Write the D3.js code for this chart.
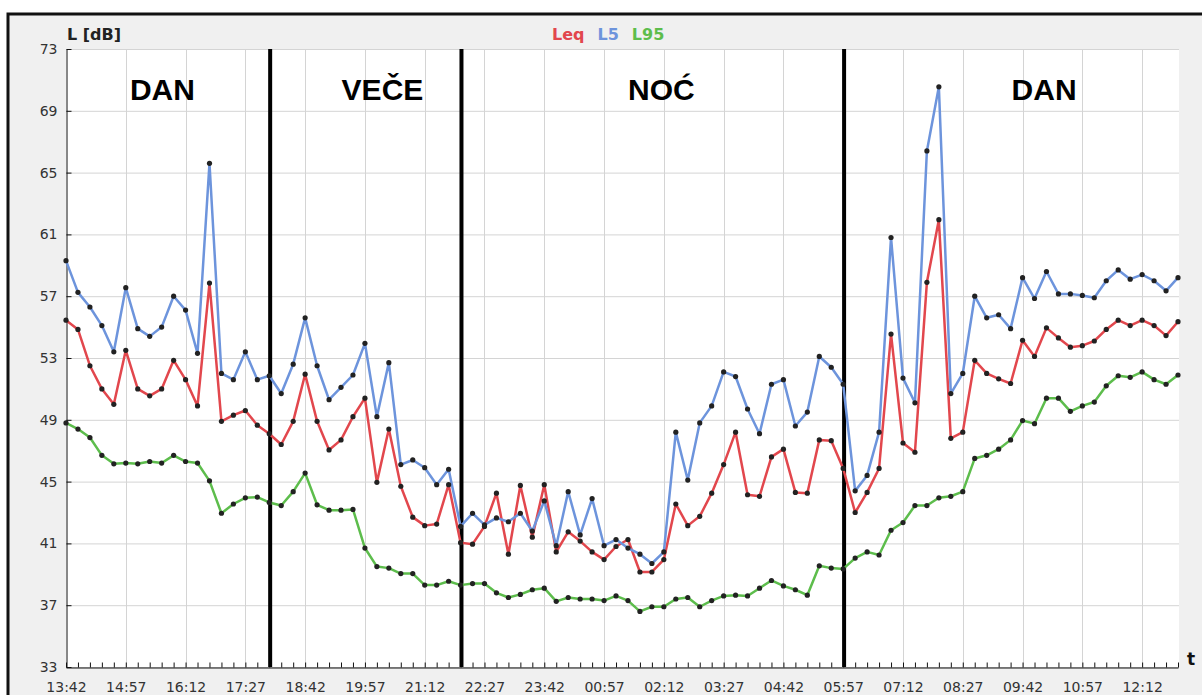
<!DOCTYPE html>
<html>
<head>
<meta charset="UTF-8">
<title>L [dB]</title>
<style>
    body { margin: 0; background: #fff; }
    svg text { font-family: "DejaVu Sans", Verdana, sans-serif; }
    .axis path, .axis line { stroke: #111; }
    .axis text { font-size: 14px; fill: #333; }
    .grid line { stroke: #d4d4d4; stroke-width: 1; }
    .period { font-family: "Liberation Sans", Arial, sans-serif !important; font-weight: bold; font-size: 30px; }
</style>
</head>
<body>
<svg width="1202" height="695"></svg>
<script src="https://d3js.org/d3.v7.min.js"></script>
<script>

    // measurements every 15 min starting at 13:42
    var startTime = "13:42",
        stepMinutes = 15;

    var leq = [55.45, 54.85, 52.5, 51.0, 50.0, 53.5, 51.0, 50.55, 51.0, 52.85,
        51.6, 49.9, 57.85, 48.9, 49.3, 49.6, 48.65, 48.1, 47.4, 48.9,
        51.95, 48.9, 47.05, 47.7, 49.2, 50.4, 44.95, 48.4, 44.7, 42.7,
        42.15, 42.25, 44.8, 41.05, 40.95, 42.1, 44.25, 40.3, 44.75, 41.4,
        44.8, 40.45, 41.75, 41.15, 40.45, 39.95, 40.8, 41.25, 39.15, 39.15,
        39.95, 43.55, 42.15, 42.75, 44.25, 46.1, 48.2, 44.15, 44.05, 46.6,
        47.1, 44.3, 44.25, 47.7, 47.65, 45.85, 43.0, 44.3, 45.85, 54.55,
        47.5, 46.9, 57.9, 61.95, 47.8, 48.2, 52.85, 52.0, 51.65, 51.35,
        54.15, 53.1, 54.95, 54.3, 53.7, 53.8, 54.1, 54.85, 55.45, 55.1,
        55.45, 55.1, 54.45, 55.35];

    var l5 = [59.3, 57.25, 56.3, 55.1, 53.4, 57.55, 54.9, 54.4, 55.0, 57.0,
        56.1, 53.3, 65.6, 52.0, 51.6, 53.4, 51.6, 51.85, 50.7, 52.6,
        55.6, 52.5, 50.3, 51.1, 51.9, 53.95, 49.2, 52.7, 46.1, 46.4,
        45.9, 44.8, 45.8, 42.1, 42.95, 42.2, 42.65, 42.4, 42.95, 41.8,
        43.75, 40.85, 44.35, 41.55, 43.9, 40.85, 41.25, 40.7, 40.3, 39.7,
        40.45, 48.2, 45.1, 48.8, 49.9, 52.1, 51.8, 49.7, 48.1, 51.3,
        51.6, 48.6, 49.5, 53.1, 52.4, 51.3, 44.4, 45.4, 48.2, 60.8,
        51.7, 50.1, 66.4, 70.55, 50.7, 52.0, 57.0, 55.6, 55.8, 54.9,
        58.2, 56.85, 58.6, 57.15, 57.15, 57.05, 56.9, 58.0, 58.7, 58.1,
        58.4, 58.0, 57.35, 58.2];

    var l95 = [48.8, 48.4, 47.85, 46.7, 46.15, 46.2, 46.15, 46.3, 46.2, 46.7,
        46.3, 46.2, 45.05, 42.95, 43.55, 43.95, 44.0, 43.65, 43.45, 44.35,
        45.55, 43.5, 43.15, 43.15, 43.2, 40.7, 39.5, 39.4, 39.05, 39.05,
        38.3, 38.3, 38.55, 38.3, 38.4, 38.4, 37.8, 37.5, 37.7, 38.0,
        38.1, 37.25, 37.5, 37.4, 37.4, 37.3, 37.6, 37.3, 36.6, 36.9,
        36.9, 37.4, 37.5, 36.9, 37.3, 37.6, 37.65, 37.6, 38.1, 38.6,
        38.25, 38.0, 37.65, 39.55, 39.4, 39.35, 40.05, 40.45, 40.25, 41.85,
        42.35, 43.45, 43.45, 43.95, 44.05, 44.35, 46.5, 46.7, 47.1, 47.7,
        48.95, 48.75, 50.4, 50.4, 49.55, 49.9, 50.15, 51.2, 51.85, 51.75,
        52.1, 51.6, 51.3, 51.9];

    var xTickLabels = ["13:42", "14:57", "16:12", "17:27", "18:42", "19:57", "21:12",
        "22:27", "23:42", "00:57", "02:12", "03:27", "04:42", "05:57", "07:12",
        "08:27", "09:42", "10:57", "12:12"];

    var yTicks = [33, 37, 41, 45, 49, 53, 57, 61, 65, 69, 73];

    var periodNames = ["DAN", "VEČE", "NOĆ", "DAN"];
    var periodBounds = ["18:00", "22:00", "06:00"];

    var series = [
        {name: "Leq", values: leq, color: "#e2474d"},
        {name: "L5", values: l5, color: "#6d94dc"},
        {name: "L95", values: l95, color: "#5dbd4c"}
    ];

    // minutes after start time (wraps past midnight)
    function toMin(s) {
        var p = s.split(":"), q = startTime.split(":");
        return ((+p[0] * 60 + +p[1]) - (+q[0] * 60 + +q[1]) + 1440) % 1440;
    }

    var svg = d3.select("svg"),
        plotL = 66, plotR = 1178, plotT = 49, plotB = 667;

    var n = leq.length;
    var x = d3.scaleLinear().domain([0, (n - 1) * stepMinutes]).range([plotL, plotR]);
    var y = d3.scaleLinear().domain([33, 73]).range([plotB, plotT]);

    // outer frame
    svg.append("rect").attr("x", 8).attr("y", 14).attr("width", 1200).attr("height", 700)
            .attr("fill", "#f0f0f0").attr("stroke", "#111").attr("stroke-width", 3);
    svg.append("rect").attr("x", plotL).attr("y", plotT).attr("width", plotR - plotL + 1).attr("height", plotB - plotT)
            .attr("fill", "#fff");

    var labelTicks = xTickLabels.map(toMin);

    // grid
    var grid = svg.append("g").attr("class", "grid");
    grid.selectAll(".h").data(yTicks).enter().append("line")
            .attr("x1", plotL).attr("x2", plotR + 1)
            .attr("y1", function (d) { return y(d) + 0.5; })
            .attr("y2", function (d) { return y(d) + 0.5; });
    grid.selectAll(".v").data(labelTicks.slice(1)).enter().append("line")
            .attr("y1", plotT).attr("y2", plotB)
            .attr("x1", function (d) { return Math.round(x(d)) + 0.5; })
            .attr("x2", function (d) { return Math.round(x(d)) + 0.5; });

    // axes
    var xAxis = d3.axisBottom(x)
            .tickValues(d3.range(0, (n - 1) * stepMinutes + 1, stepMinutes))
            .tickSize(-5).tickSizeOuter(0).tickPadding(15)
            .tickFormat(function (d) {
                var i = labelTicks.indexOf(d);
                return i < 0 ? "" : xTickLabels[i];
            });
    svg.append("g").attr("class", "axis").attr("transform", "translate(0," + (plotB + 0.5) + ")")
            .call(xAxis);

    var yAxis = d3.axisLeft(y).tickValues(yTicks).tickSize(-5).tickSizeOuter(0).tickPadding(9);
    svg.append("g").attr("class", "axis").attr("transform", "translate(" + (plotL + 0.5) + ",0)")
            .call(yAxis);

    // period separators
    svg.selectAll(".sep").data(periodBounds).enter().append("line")
            .attr("x1", function (d) { return x(toMin(d)) - 1.5; })
            .attr("x2", function (d) { return x(toMin(d)) - 1.5; })
            .attr("y1", plotT).attr("y2", plotB)
            .attr("stroke", "#000").attr("stroke-width", 4);

    var labelTimes = ["15:43", "20:19", "02:09", "10:09"];
    svg.selectAll(".period").data(periodNames).enter().append("text")
            .attr("class", "period")
            .attr("x", function (d, i) { return x(toMin(labelTimes[i])); })
            .attr("y", 100)
            .attr("text-anchor", "middle")
            .text(function (d) { return d; });

    // lines and points
    var line = d3.line()
            .x(function (d, i) { return x(i * stepMinutes); })
            .y(function (d) { return y(d); });

    series.forEach(function (s) {
        svg.append("path").datum(s.values)
                .attr("d", line)
                .attr("fill", "none")
                .attr("stroke", s.color)
                .attr("stroke-width", 2.5)
                .attr("stroke-linejoin", "round");
    });
    series.forEach(function (s) {
        svg.append("g").selectAll("circle").data(s.values).enter().append("circle")
                .attr("cx", function (d, i) { return x(i * stepMinutes); })
                .attr("cy", function (d) { return y(d); })
                .attr("r", 2.6)
                .attr("fill", "#222");
    });

    // titles and legend
    svg.append("text").attr("x", plotL + 1).attr("y", 40)
            .attr("font-weight", "bold").attr("font-size", 16).attr("fill", "#222")
            .text("L [dB]");
    svg.append("text").attr("x", 1187).attr("y", 665)
            .attr("font-weight", "bold").attr("font-size", 17).attr("fill", "#111")
            .text("t");

    var legend = svg.append("text").attr("x", 552).attr("y", 40)
            .attr("font-weight", "bold").attr("font-size", 16);
    series.forEach(function (s, i) {
        legend.append("tspan").attr("dx", i ? 13 : 0).attr("fill", s.color).text(s.name);
    });

</script>
</body>
</html>
